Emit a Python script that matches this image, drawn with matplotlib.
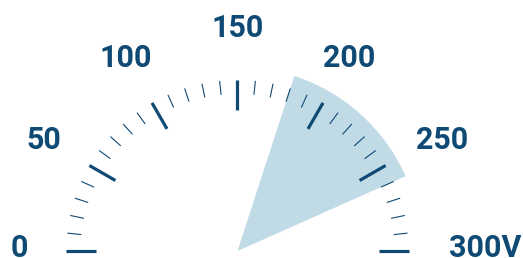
import numpy as np
import matplotlib
matplotlib.use("Agg")
import matplotlib.pyplot as plt
from matplotlib.patches import Wedge

# gauge scale
v_min, v_max = 0, 300
major_values = [0, 50, 100, 150, 200, 250, 300]
major_labels = ["0", "50", "100", "150", "200", "250", "300V"]
minor_step = 10

# highlighted band
band_start, band_end = 180, 260

dark = "#0f4a74"
band_color = "#c0dae6"


def val_to_angle(v):
    # 0 -> 180 deg (left), 300 -> 0 deg (right)
    return 180.0 - (v - v_min) / (v_max - v_min) * 180.0


fig = plt.figure(figsize=(5.23, 2.58), dpi=100)
ax = fig.add_axes([0, 0, 1, 1])
cx, cy = 237.5, 251
ax.set_xlim(-cx, 523 - cx)
ax.set_ylim(-(258 - cy), cy)
ax.axis("off")

ax.add_patch(Wedge((0, 0), 184, val_to_angle(band_end), val_to_angle(band_start),
                   facecolor=band_color, edgecolor="none", zorder=1))

r_out = 171
for v in range(v_min, v_max + 1, minor_step):
    th = np.radians(val_to_angle(v))
    if v in major_values:
        r_in, lw = 141, 2.3
    else:
        r_in, lw = 157, 0.8
    ax.plot([r_in * np.cos(th), r_out * np.cos(th)],
            [r_in * np.sin(th), r_out * np.sin(th)],
            color=dark, lw=lw, solid_capstyle="butt", zorder=2)

r_lab = 224
for v, lab in zip(major_values, major_labels):
    th = np.radians(val_to_angle(v))
    x, y = r_lab * np.cos(th), r_lab * np.sin(th)
    ha = "center"
    if v == v_max:
        x, ha = 211, "left"
    elif v == v_min:
        x = -218
    elif x > 150:
        x += 11
    if v in (v_min, v_max):
        y = 4
    ax.text(x, y - 1, lab, ha=ha, va="center", fontsize=22, color=dark,
            family="Roboto", fontweight="bold", zorder=3)

fig.savefig("out.png", dpi=100)
